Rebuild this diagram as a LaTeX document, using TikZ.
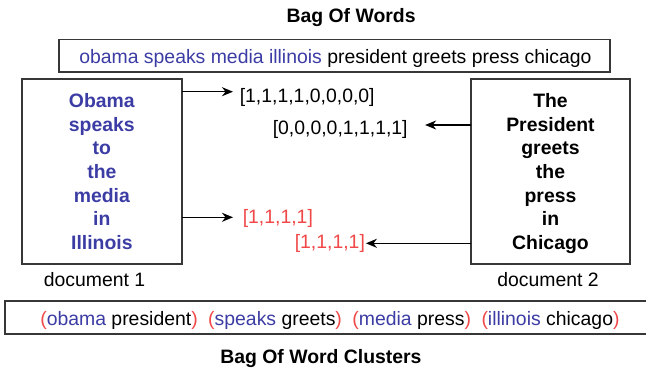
\documentclass[tikz,border=0pt]{standalone}
\usepackage{fontspec}
\setmainfont{Liberation Sans}
\usetikzlibrary{arrows.meta}
\definecolor{wordblue}{RGB}{60,60,165}
\definecolor{wordred}{RGB}{240,72,72}
\definecolor{framegray}{RGB}{55,55,55}

\begin{document}
\begin{tikzpicture}[x=1pt,y=-1pt,
  every node/.style={inner sep=0pt, outer sep=0pt, font=\fontsize{19.4}{23.7}\selectfont},
  frame/.style={draw=framegray, line width=1.8pt},
  docbox/.style={frame, align=center, text depth=0pt,
    font=\fontsize{19.4}{23.7}\selectfont\bfseries},
  txt/.style={anchor=base west},
  heading/.style={anchor=base west, font=\fontsize{19.4}{23.7}\selectfont\bfseries},
  arr/.style={-{Stealth[length=11pt,width=9pt,inset=3.5pt]}, line width=1.5pt}
]
\useasboundingbox (0,0) rectangle (646,370);
\fill[white] (0,0) rectangle (646,370);

% headings
\node[heading] (tbow) at (286.6,22.7) {Bag Of Words};
\node[heading] (tbwc) at (220.3,363) {Bag Of Word Clusters};

% vocabulary box
\node[frame, minimum width=551pt, minimum height=32.5pt] (vocab) at (334.5,55.75) {};
\node[txt] (vocabtext) at (79.3,63.3)
  {\textcolor{wordblue}{obama speaks media illinois} president greets press chicago};

% documents
\node[docbox, minimum width=160.3pt, minimum height=185pt, text=wordblue] (doc1) at (101.85,171.5)
  {Obama\\speaks\\to\\the\\media\\in\\Illinois};
\node[docbox, minimum width=159pt, minimum height=185pt] (doc2) at (550.5,171.5)
  {The\\President\\greets\\the\\press\\in\\Chicago};
\node[anchor=base] (lab1) at (94.5,286) {document 1};
\node[anchor=base] (lab2) at (548,286) {document 2};

% vectors
\node[txt] (v1) at (239.8,102) {[1,1,1,1,0,0,0,0]};
\node[txt] (v2) at (272.8,134) {[0,0,0,0,1,1,1,1]};
\node[txt, text=wordred] (v3) at (242.8,223) {[1,1,1,1]};
\node[txt, text=wordred] (v4) at (294.8,248.5) {[1,1,1,1]};

% arrow rows
\coordinate (a1) at (0,91.7);
\coordinate (a2) at (0,125);
\coordinate (a3) at (0,217.3);
\coordinate (a4) at (0,243.3);

\draw[arr, shorten >=6.8pt] (doc1.east |- a1) -- (v1.west |- a1);
\draw[arr, shorten >=17.5pt] (doc2.west |- a2) -- (v2.east |- a2);
\draw[arr, shorten >=9.8pt] (doc1.east |- a3) -- (v3.west |- a3);
\draw[arr, shorten >=1pt] (doc2.west |- a4) -- (v4.east |- a4);

% cluster box, running off the right edge
\begin{scope}
  \clip (0,0) rectangle (646,370);
  \node[frame, anchor=north west, minimum width=648pt, minimum height=32.7pt] (clusters) at (4.7,301) {};
\end{scope}
\node[txt] (clustertext) at (40.3,325.7)
  {\textcolor{wordred}{(}\textcolor{wordblue}{obama} president\textcolor{wordred}{)}\hspace{10.5pt}%
   \textcolor{wordred}{(}\textcolor{wordblue}{speaks} greets\textcolor{wordred}{)}\hspace{10.5pt}%
   \textcolor{wordred}{(}\textcolor{wordblue}{media} press\textcolor{wordred}{)}\hspace{10.5pt}%
   \textcolor{wordred}{(}\textcolor{wordblue}{illinois} chicago\textcolor{wordred}{)}};
\end{tikzpicture}
\end{document}
